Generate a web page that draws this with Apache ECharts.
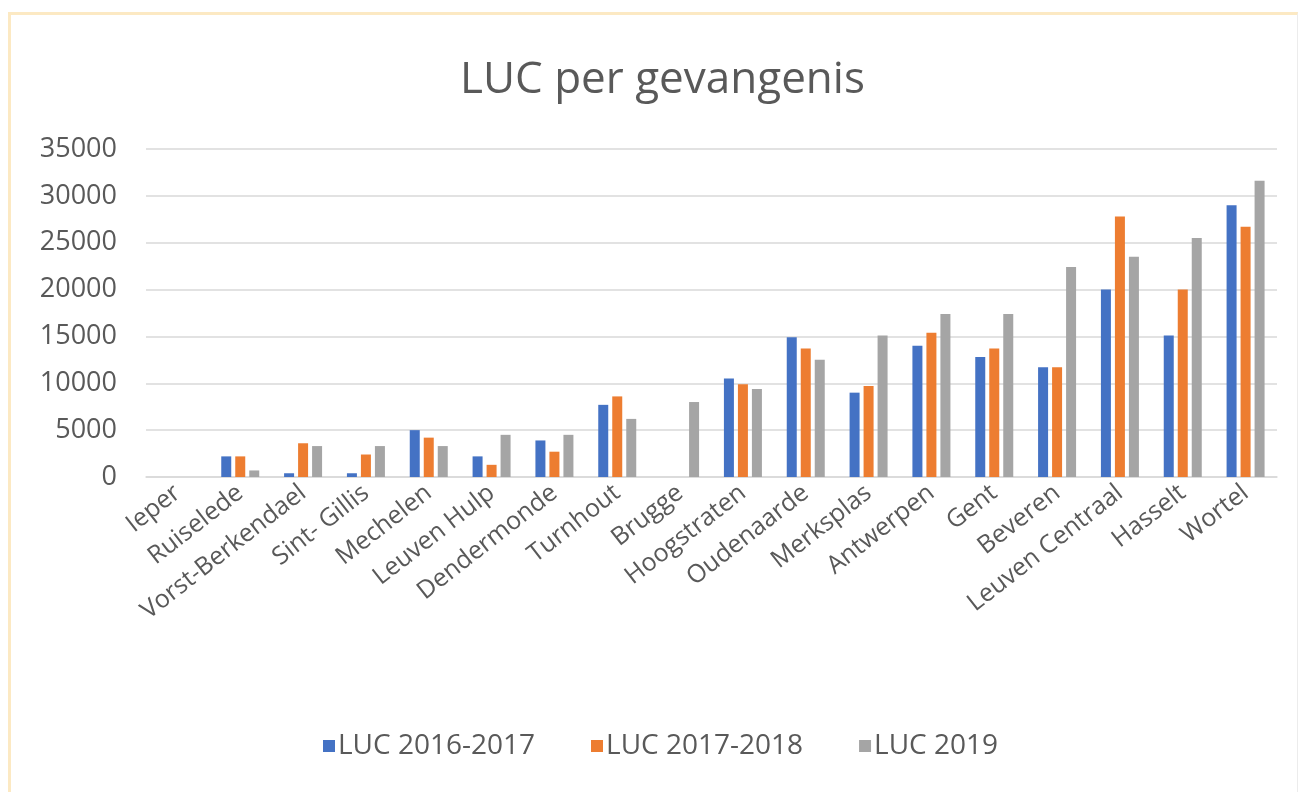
<!DOCTYPE html>
<html>
<head>
<meta charset="utf-8">
<title>LUC per gevangenis</title>
<script src="https://cdn.jsdelivr.net/npm/echarts@6/dist/echarts.min.js"></script>
<style>
  html, body { margin: 0; padding: 0; background: #fff; }
  #frame {
    position: absolute; left: 8px; top: 12px; width: 1286px; height: 800px;
    border-top: 3px solid #fce9c3; border-left: 3px solid #fce9c3;
    border-right: 1px solid #ececec;
  }
  #main { position: absolute; left: 0; top: 0; width: 1308px; height: 792px; }
</style>
</head>
<body>
<div id="frame"></div>
<div id="main"></div>
<script>
// categories (gevangenissen)
const categories = ['Ieper', 'Ruiselede', 'Vorst-Berkendael', 'Sint- Gillis', 'Mechelen', 'Leuven Hulp',
  'Dendermonde', 'Turnhout', 'Brugge', 'Hoogstraten', 'Oudenaarde', 'Merksplas', 'Antwerpen',
  'Gent', 'Beveren', 'Leuven Centraal', 'Hasselt', 'Wortel'];

const luc2016_2017 = [0, 2200, 400, 400, 5000, 2200, 3900, 7700, 0, 10500, 14900, 9000, 14000, 12800, 11700, 20000, 15100, 29000];
const luc2017_2018 = [0, 2200, 3600, 2400, 4200, 1300, 2700, 8600, 0, 9900, 13700, 9700, 15400, 13700, 11700, 27800, 20000, 26700];
const luc2019 = [0, 700, 3300, 3300, 3300, 4500, 4500, 6200, 8000, 9400, 12500, 15100, 17400, 17400, 22400, 23500, 25500, 31600];

const seriesNames = ['LUC 2016-2017', 'LUC 2017-2018', 'LUC 2019'];

const textColor = '#595959';
const font = 'Open Sans';

let myChart = echarts.init(document.getElementById('main'), null, {renderer: 'canvas'});

var option = {
  color: ['#4472C4', '#ED7D31', '#A5A5A5'],
  animation: false,
  title: {
    text: 'LUC per gevangenis',
    left: 455,
    top: 53,
    textStyle: {
      color: textColor,
      fontFamily: font,
      fontWeight: 'normal',
      fontSize: 44
    }
  },
  legend: {
    data: seriesNames,
    left: 318,
    top: 727,
    itemWidth: 12,
    itemHeight: 12,
    itemGap: 56,
    icon: 'rect',
    textStyle: {
      color: textColor,
      fontFamily: font,
      fontSize: 28,
      padding: [0, 0, 0, -2]
    }
  },
  grid: {
    left: 146,
    right: 31,
    top: 149,
    bottom: 315
  },
  xAxis: {
    type: 'category',
    data: categories,
    axisTick: {show: false},
    axisLine: {lineStyle: {color: '#d9d9d9', width: 1.5}},
    axisLabel: {
      rotate: 38,
      interval: 0,
      margin: 13,
      color: textColor,
      fontFamily: font,
      fontSize: 25
    }
  },
  yAxis: {
    type: 'value',
    min: 0,
    max: 35000,
    interval: 5000,
    axisLine: {show: false},
    axisTick: {show: false},
    splitLine: {lineStyle: {color: '#d9d9d9', width: 1.5}},
    axisLabel: {
      margin: 29,
      color: textColor,
      fontFamily: font,
      fontSize: 27,
      formatter: function (v) { return String(v); }
    }
  },
  series: [
    {name: seriesNames[0], type: 'bar', data: luc2016_2017, barWidth: 10, barGap: '40%'},
    {name: seriesNames[1], type: 'bar', data: luc2017_2018, barWidth: 10, barGap: '40%'},
    {name: seriesNames[2], type: 'bar', data: luc2019, barWidth: 10, barGap: '40%'}
  ]
};

myChart.setOption(option);
window.addEventListener('resize', myChart.resize);
</script>
</body>
</html>
